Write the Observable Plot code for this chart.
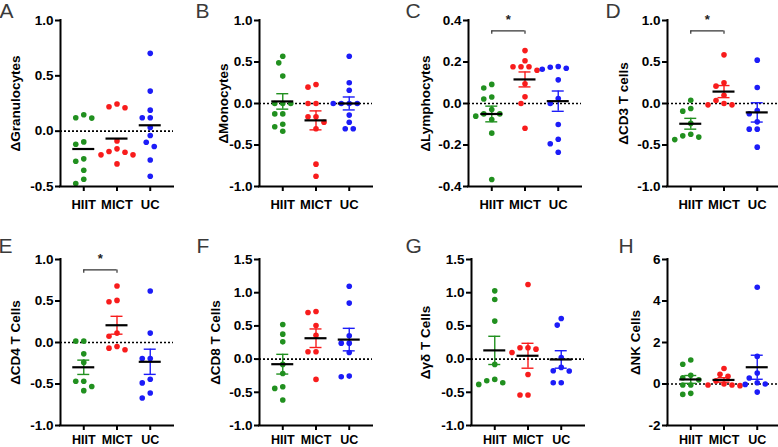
<!DOCTYPE html>
<html><head><meta charset="utf-8">
<script src="https://cdn.jsdelivr.net/npm/d3@7"></script>
<script src="https://cdn.jsdelivr.net/npm/@observablehq/plot@0.6"></script>
<style>
body{margin:0;background:#fff;overflow:hidden}
#root{position:relative;width:778px;height:447px;overflow:hidden;font-family:"Liberation Sans",Arial,sans-serif}
.panel{position:absolute}
.letter{position:absolute;font-size:21px;line-height:1;color:#3a3a3a;font-family:"Liberation Sans",Arial,sans-serif}
</style></head><body><div id="root"></div>
<script>
// ---- data ----
const groups = ["HIIT", "MICT", "UC"];
const groupColors = ["#21901f", "#f81c1c", "#1c1cf8"];
const letters = ["A", "B", "C", "D", "E", "F", "G", "H"];
const yLabels = ["ΔGranulocytes", "ΔMonocytes", "ΔLymphocytes", "ΔCD3 T cells", "ΔCD4 T Cells", "ΔCD8 T Cells", "Δγδ T Cells", "ΔNK Cells"];
const yDomains = [[-0.5, 1], [-1, 1], [-0.4, 0.4], [-1, 1], [-1, 1], [-1, 1.5], [-1, 1.5], [-2, 6]];
const yTicks = [
  [-0.5, 0, 0.5, 1.0], [-1, -0.5, 0, 0.5, 1], [-0.4, -0.2, 0, 0.2, 0.4], [-1, -0.5, 0, 0.5, 1],
  [-1, -0.5, 0, 0.5, 1], [-1, -0.5, 0, 0.5, 1, 1.5], [-1, -0.5, 0, 0.5, 1, 1.5], [-2, 0, 2, 4, 6]
];
const showSEM = [false, true, true, true, true, true, true, true];
const significant = [false, false, true, true, true, false, false, false]; // HIIT vs MICT "*"

const granulocytes = [
  [0.148, 0.121, 0.118, -0.097, -0.118, -0.25, -0.272, -0.353, -0.435, -0.474],
  [0.245, 0.22, 0.211, -0.088, -0.16, -0.184, -0.19, -0.214, -0.214, -0.296],
  [0.703, 0.362, 0.19, 0.121, 0.121, 0.033, -0.039, -0.1, -0.139, -0.26, -0.407]
];
const monocytes = [
  [0.57, 0.49, 0.33, 0, 0, 0, -0.125, -0.125, -0.25, -0.28, -0.335],
  [0.229, 0.197, 0, 0, -0.161, -0.161, -0.225, -0.305, -0.731, -0.876],
  [0.57, 0.25, 0.16, 0, 0, 0, 0, -0.14, -0.225, -0.305, -0.305]
];
const lymphocytes = [
  [0.092, 0.075, 0.031, 0.022, -0.029, -0.05, -0.05, -0.061, -0.077, -0.143, -0.366],
  [0.255, 0.206, 0.177, 0.177, 0.177, 0.16, 0.095, 0.032, 0.0, -0.119],
  [0.178, 0.175, 0.17, 0.165, 0.114, 0.024, 0.0, -0.101, -0.172, -0.194, -0.235]
];
const cd3 = [
  [0.04, -0.06, -0.092, -0.24, -0.37, -0.39, -0.405, -0.435],
  [0.586, 0.249, 0.209, 0.1, 0.036, 0.0, -0.016, -0.016],
  [0.522, 0.193, -0.084, -0.124, -0.221, -0.309, -0.309, -0.526]
];
const cd4 = [
  [0.016, 0.016, -0.137, -0.24, -0.467, -0.467, -0.53, -0.58],
  [0.68, 0.507, 0.491, 0.113, 0.076, -0.048, -0.068, -0.088],
  [0.62, 0.113, -0.193, -0.193, -0.443, -0.487, -0.608, -0.668]
];
const cd8 = [
  [0.52, 0.376, 0.26, -0.08, -0.216, -0.416, -0.441, -0.617],
  [0.717, 0.702, 0.507, 0.36, 0.11, 0.11, -0.306],
  [1.098, 0.843, 0.351, 0.24, 0.24, 0.1, -0.256, -0.266]
];
const gammaDelta = [
  [1.028, 0.898, 0.572, -0.08, -0.306, -0.326, -0.356, -0.381],
  [1.123, 0.171, 0.17, 0.15, 0.1, -0.231, -0.54, -0.54],
  [0.612, 0.512, 0.025, -0.125, -0.175, -0.18, -0.356, -0.356]
];
const nkCells = [
  [1.16, 0.95, 0.42, 0.3, 0.2, -0.05, -0.05, -0.45, -0.5],
  [0.75, 0.47, 0.37, 0.15, 0.0, -0.05, -0.08, -0.05],
  [4.66, 1.33, 0.53, 0.29, 0.06, 0.0, -0.02, -0.39]
];
const panelValues = [granulocytes, monocytes, lymphocytes, cd3, cd4, cd8, gammaDelta, nkCells];

// ---- layout ----
const axisXs = [60, 259, 468, 667, 60, 259, 471, 667];
const labelOffsets = [45, 36, 43, 44, 45, 44, 46, 32];
const letterXs = [1, 197, 407, 607, 0, 198, 407, 620];
const rowTop = [0, 220];
const rowMarginTop = [20, 39];
const rowMarginBottom = [30, 22];
const rowTickPadding = [8, 5];
const rowTickFont = [13, 12.5];
const letterBaselines = [18, 253];
const ML = 60, INNER_W = 113, INNER_H = 166, PAD = 0.7;
const XDOM = [-PAD, 2 + PAD];
const STEP = INNER_W / (2 + 2 * PAD);

function swarm(values, yScale) {
  const order = values.map((v, i) => i).sort((a, b) => values[b] - values[a]);
  const placed = [], out = [];
  const H = 4, D = 6.8;
  for (const i of order) {
    const py = yScale(values[i]);
    for (let k = 0; k < 60; k++) {
      const off = k === 0 ? 0 : (k % 2 ? -1 : 1) * Math.ceil(k / 2) * H;
      if (placed.every(p => (p.x - off) ** 2 + (p.y - py) ** 2 >= D * D)) {
        placed.push({x: off, y: py});
        out.push({v: values[i], off});
        break;
      }
    }
  }
  return out;
}

const root = document.getElementById("root");
panelValues.forEach((vals, pi) => {
  const row = pi < 4 ? 0 : 1;
  const [y0, y1] = yDomains[pi];
  const mt = rowMarginTop[row], mb = rowMarginBottom[row];
  const height = mt + INNER_H + mb;
  const width = ML + INNER_W + 5;
  const yScale = d3.scaleLinear([y0, y1], [mt + INNER_H, mt]);
  const pts = [], stats = [];
  vals.forEach((g, gi) => {
    swarm(g, yScale).forEach(d => pts.push({g: gi, v: d.v, x: gi + d.off / STEP, c: groupColors[gi]}));
    stats.push({g: gi, m: d3.mean(g), s: d3.deviation(g) / Math.sqrt(g.length), c: groupColors[gi]});
  });
  const fmt = pi === 7 ? (d => String(d)) : (d => d.toFixed(1));
  const meanHalf = 11 / STEP, capHalf = 6 / STEP;
  const marks = [
    Plot.ruleY([0], {x1: XDOM[0], x2: XDOM[1], stroke: "#000", strokeWidth: 1.6, strokeDasharray: "2,2"}),
    Plot.dot(pts, {x: "x", y: "v", r: 2.8, fill: "c", stroke: null})
  ];
  if (showSEM[pi]) {
    marks.push(
      Plot.ruleX(stats, {x: "g", y1: d => d.m - d.s, y2: d => d.m + d.s, stroke: "c", strokeWidth: 1.4}),
      Plot.ruleY(stats, {y: d => d.m + d.s, x1: d => d.g - capHalf, x2: d => d.g + capHalf, stroke: "c", strokeWidth: 1.4}),
      Plot.ruleY(stats, {y: d => d.m - d.s, x1: d => d.g - capHalf, x2: d => d.g + capHalf, stroke: "c", strokeWidth: 1.4})
    );
  }
  marks.push(
    Plot.ruleY(stats, {y: "m", x1: d => d.g - meanHalf, x2: d => d.g + meanHalf, stroke: "#000", strokeWidth: 2.2}),
    Plot.ruleX([XDOM[0]], {y1: y0, y2: y1, stroke: "#000", strokeWidth: 2, strokeLinecap: "square"}),
    Plot.ruleY([y0], {x1: XDOM[0], x2: XDOM[1], stroke: "#000", strokeWidth: 2, strokeLinecap: "square"}),
    Plot.axisY({ticks: yTicks[pi], tickFormat: fmt, tickSize: 5, tickPadding: 2, strokeWidth: 2, label: null, fontSize: 13.5, fontWeight: "bold"}),
    Plot.axisX({ticks: [0, 1, 2], tickFormat: i => groups[i], tickSize: 5, tickPadding: rowTickPadding[row], strokeWidth: 2, label: null, fontSize: rowTickFont[row], fontWeight: "bold"}),
    Plot.text([yLabels[pi]], {frameAnchor: "left", textAnchor: "middle", lineAnchor: "middle", rotate: -90, dx: -labelOffsets[pi], fontSize: 13.5, fontWeight: "bold"})
  );
  if (significant[pi]) {
    const span = y1 - y0;
    const yb = y1 - span * 0.0625;
    marks.push(
      Plot.ruleY([yb], {x1: 0, x2: 1, stroke: "#333", strokeWidth: 1.2}),
      Plot.ruleX([0, 1], {y1: yb, y2: yb - span * 0.02, stroke: "#333", strokeWidth: 1.2}),
      Plot.text(["*"], {x: 0.5, y: yb, dy: -11, fontSize: 13, fontWeight: "bold", fill: "#222"})
    );
  }
  const svg = Plot.plot({
    width, height,
    marginLeft: ML, marginRight: 5, marginTop: mt, marginBottom: mb,
    x: {type: "linear", domain: XDOM, axis: null},
    y: {type: "linear", domain: [y0, y1], axis: null},
    color: {type: "identity"},
    style: {fontFamily: "'Liberation Sans', Arial, sans-serif", fontWeight: "bold", color: "#000", background: "transparent", overflow: "visible"},
    marks
  });
  svg.classList.add("panel");
  svg.style.left = (axisXs[pi] - ML) + "px";
  svg.style.top = rowTop[row] + "px";
  root.appendChild(svg);

  const lt = document.createElement("div");
  lt.className = "letter";
  lt.textContent = letters[pi];
  lt.style.left = (letterXs[pi] - 1.5) + "px";
  lt.style.top = (letterBaselines[row] - 17.8) + "px";
  root.appendChild(lt);
});
</script>
</body></html>
